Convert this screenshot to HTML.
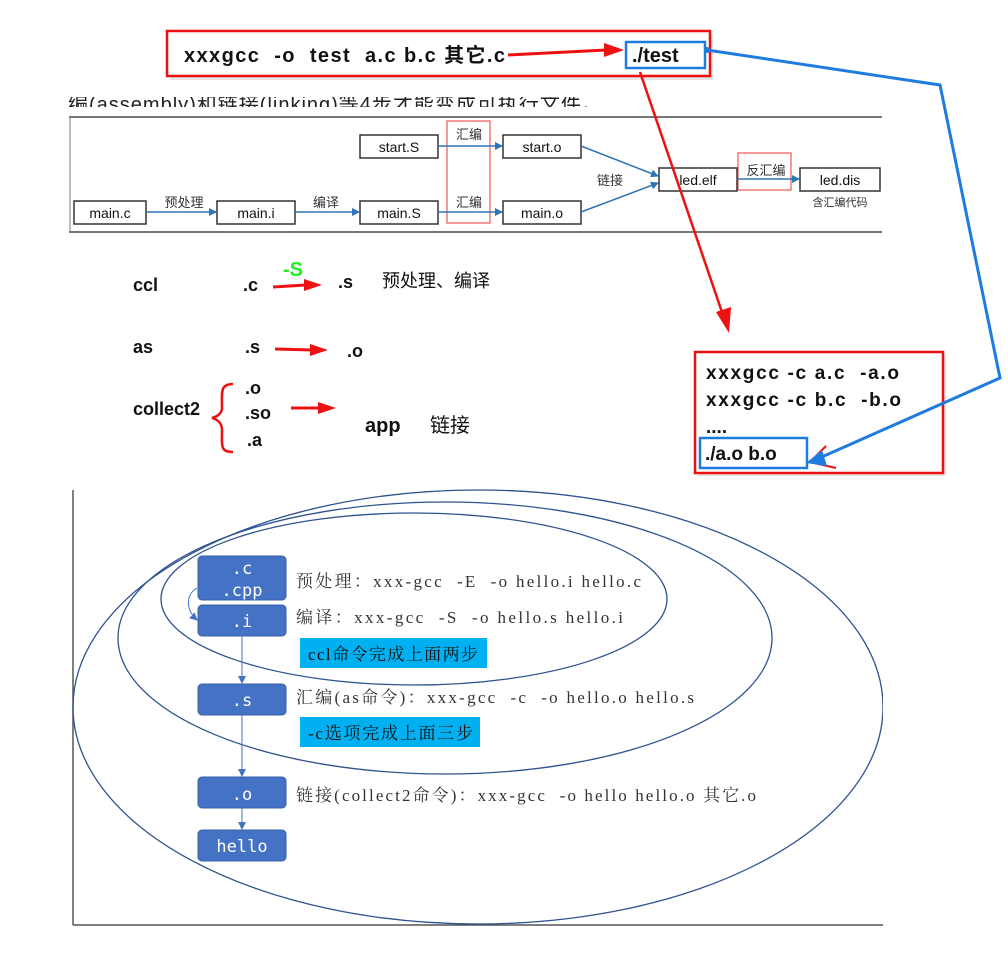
<!DOCTYPE html>
<html><head><meta charset="utf-8"><style>
body{margin:0;background:#fff;width:1008px;height:977px;overflow:hidden;position:relative;font-family:"Liberation Sans","Noto Sans CJK SC",sans-serif}
text{white-space:pre}
</style></head><body>
<div style="position:absolute;left:68px;top:97px;width:760px;height:10px;overflow:hidden"><div style="font-size:20px;line-height:20px;margin-top:-2px;color:#222;letter-spacing:1px">编(assembly)和链接(linking)等4步才能变成可执行文件。</div></div>
<svg width="1008" height="977" style="position:absolute;left:0;top:0" font-family="Liberation Sans, Noto Sans CJK SC, sans-serif" xml:space="preserve">
<defs>
<marker id="ab" markerWidth="8" markerHeight="8" refX="7" refY="4" orient="auto" markerUnits="userSpaceOnUse"><path d="M0,0 L8,4 L0,8z" fill="#2e75b6"/></marker>
<marker id="ab2" markerWidth="8" markerHeight="8" refX="7" refY="4" orient="auto" markerUnits="userSpaceOnUse"><path d="M0,0 L8,4 L0,8z" fill="#4472c4"/></marker>
</defs>
<line x1="69" y1="117" x2="882" y2="117" stroke="#777" stroke-width="2"/>
<line x1="69" y1="232" x2="882" y2="232" stroke="#777" stroke-width="2"/>
<line x1="70" y1="117" x2="70" y2="232" stroke="#777" stroke-width="1"/>
<g fill="#fff" stroke="#333" stroke-width="1.5">
<rect x="74" y="201" width="72" height="23"/>
<rect x="217" y="201" width="78" height="23"/>
<rect x="360" y="201" width="78" height="23"/>
<rect x="360" y="135" width="78" height="23"/>
<rect x="503" y="135" width="78" height="23"/>
<rect x="503" y="201" width="78" height="23"/>
<rect x="659" y="168" width="78" height="23"/>
<rect x="800" y="168" width="80" height="23"/>
</g>
<g fill="none" stroke="#e33" stroke-width="1"><rect x="447" y="121" width="43" height="102"/><rect x="738" y="153" width="53" height="37"/></g>
<g stroke="#2e75b6" stroke-width="1.5" marker-end="url(#ab)">
<line x1="146" y1="212" x2="216" y2="212"/><line x1="295" y1="212" x2="359" y2="212"/>
<line x1="438" y1="212" x2="502" y2="212"/><line x1="438" y1="146" x2="502" y2="146"/>
<line x1="581" y1="146" x2="658" y2="176"/><line x1="581" y1="212" x2="658" y2="183"/>
<line x1="737" y1="179" x2="799" y2="179"/>
</g>
<g font-size="14" fill="#111" text-anchor="middle">
<text x="110" y="218">main.c</text><text x="256" y="218">main.i</text><text x="399" y="218">main.S</text>
<text x="399" y="152">start.S</text><text x="542" y="152">start.o</text><text x="542" y="218">main.o</text>
<text x="698" y="185">led.elf</text><text x="840" y="185">led.dis</text>
</g>
<g font-size="13" fill="#333" text-anchor="middle">
<text x="184" y="207">预处理</text><text x="326" y="207">编译</text><text x="469" y="139">汇编</text><text x="469" y="207">汇编</text>
<text x="610" y="185">链接</text><text x="766" y="175">反汇编</text><text x="840" y="206" font-size="11">含汇编代码</text>
</g>
<rect x="170" y="34" width="543" height="46" fill="#ccc" opacity="0.5"/>
<rect x="167" y="31" width="543" height="45" fill="#fff" stroke="#e11" stroke-width="2.5"/>
<text x="184" y="62" font-size="20" font-weight="bold" fill="#111" textLength="321" lengthAdjust="spacing">xxxgcc  -o  test  a.c b.c 其它.c</text>
<rect x="626" y="42" width="79" height="26" fill="none" stroke="#1e7be0" stroke-width="2.5"/>
<text x="632" y="62" font-size="20" font-weight="bold" fill="#111">./test</text>
<path d="M508,55 L606,50" stroke="#e11" stroke-width="3"/><path d="M604,43 L624,50 L604,57z" fill="#e11"/>
<rect x="698" y="355" width="248" height="121" fill="#ccc" opacity="0.5"/>
<rect x="695" y="352" width="248" height="121" fill="#fff" stroke="#e11" stroke-width="2.5"/>
<g font-size="19" font-weight="bold" fill="#111">
<text x="706" y="379" textLength="193" lengthAdjust="spacing">xxxgcc -c a.c  -a.o</text><text x="706" y="406" textLength="195" lengthAdjust="spacing">xxxgcc -c b.c  -b.o</text>
<text x="706" y="433">....</text><text x="705" y="460">./a.o b.o</text></g>
<rect x="700" y="438" width="107" height="30" fill="none" stroke="#1e7be0" stroke-width="2.5"/>
<path d="M826,446 L810,462 L836,468" fill="none" stroke="#e11" stroke-width="2"/>
<path d="M640,72 L724,318" stroke="#e11" stroke-width="2.5"/><path d="M716,312 L729,333 L731,307z" fill="#e11"/>
<path d="M707,50 L940,85 L1000,378 L815,460" fill="none" stroke="#1e7be0" stroke-width="3"/>
<path d="M822,450 L806,463 L827,466z" fill="#1e7be0"/>
<circle cx="707" cy="50" r="3" fill="#1e7be0"/>
<g font-size="18" font-weight="bold" fill="#111">
<text x="133" y="291">ccl</text><text x="243" y="291">.c</text><text x="338" y="288">.s</text>
<text x="133" y="353">as</text><text x="245" y="353">.s</text><text x="347" y="357">.o</text>
<text x="133" y="415">collect2</text><text x="245" y="394">.o</text><text x="245" y="419">.so</text><text x="247" y="446">.a</text>
<text x="365" y="432" font-size="20">app</text></g>
<g font-size="18" fill="#111"><text x="382" y="287">预处理、编译</text><text x="430" y="432" font-size="20">链接</text></g>
<text x="283" y="276" font-size="20" fill="#2e2" font-weight="bold">-S</text>
<g fill="#e11"><path d="M273,287 L306,285" stroke="#e11" stroke-width="3"/><path d="M304,279 L322,285 L304,291z"/>
<path d="M275,349 L312,350" stroke="#e11" stroke-width="3"/><path d="M310,344 L328,350 L310,356z"/>
<path d="M291,408 L320,408" stroke="#e11" stroke-width="3"/><path d="M318,402 L336,408 L318,414z"/></g>
<path d="M233,384 C220,384 222,392 222,408 C222,414 216,417 212,418 C216,419 222,422 222,430 C222,446 220,452 233,452" fill="none" stroke="#e11" stroke-width="2.5"/>
<line x1="73" y1="490" x2="73" y2="925" stroke="#555" stroke-width="1.5"/>
<line x1="73" y1="925" x2="883" y2="925" stroke="#555" stroke-width="1.5"/>
<svg x="0" y="0" width="883" height="977" overflow="hidden">
<g fill="none" stroke="#2f528f" stroke-width="1.3">
<ellipse cx="478" cy="707" rx="405" ry="217"/>
<ellipse cx="445" cy="638" rx="327" ry="136"/>
<ellipse cx="414" cy="599" rx="253" ry="86"/>
</g></svg>
<g fill="#4472c4" stroke="#3a60a8" stroke-width="1">
<rect x="198" y="556" width="88" height="44" rx="4"/><rect x="198" y="605" width="88" height="31" rx="4"/>
<rect x="198" y="684" width="88" height="31" rx="4"/><rect x="198" y="777" width="88" height="31" rx="4"/>
<rect x="198" y="830" width="88" height="31" rx="4"/></g>
<g stroke="#4472c4" stroke-width="1" marker-end="url(#ab2)" fill="none">
<line x1="242" y1="636" x2="242" y2="683"/><line x1="242" y1="715" x2="242" y2="776"/><line x1="242" y1="808" x2="242" y2="829"/>
<path d="M197,588 C185,595 186,610 197,620"/></g>
<g font-family="DejaVu Sans Mono, monospace" font-size="17" fill="#fff" text-anchor="middle">
<text x="242" y="574">.c</text><text x="242" y="596">.cpp</text><text x="242" y="627">.i</text>
<text x="242" y="706">.s</text><text x="242" y="800">.o</text><text x="242" y="852">hello</text></g>
<rect x="300" y="638" width="187" height="30" fill="#00b0f0"/>
<rect x="300" y="717" width="180" height="30" fill="#00b0f0"/>
<g font-family="Liberation Serif, Noto Serif CJK SC, serif" font-size="17" fill="#333" lengthAdjust="spacing">
<text x="296" y="587" textLength="345">预处理：xxx-gcc  -E  -o hello.i hello.c</text>
<text x="296" y="623" textLength="327">编译：xxx-gcc  -S  -o hello.s hello.i</text>
<text x="296" y="703" textLength="398">汇编(as命令)：xxx-gcc  -c  -o hello.o hello.s</text>
<text x="296" y="801" textLength="460">链接(collect2命令)：xxx-gcc  -o hello hello.o 其它.o</text>
<text x="308" y="660" fill="#111" textLength="170">ccl命令完成上面两步</text>
<text x="308" y="739" fill="#111" textLength="165">-c选项完成上面三步</text></g>
</svg>
</body></html>
